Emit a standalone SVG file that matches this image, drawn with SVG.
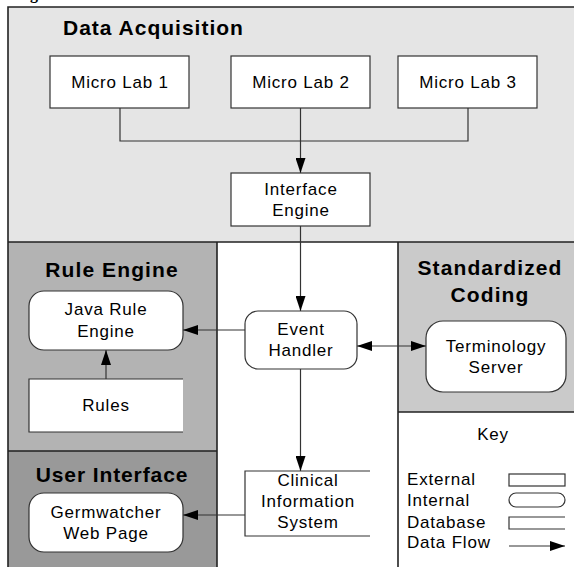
<svg xmlns="http://www.w3.org/2000/svg" width="574" height="567" viewBox="0 0 574 567">
<style>
.t{font-family:"Liberation Sans",Arial,sans-serif;font-size:17px;letter-spacing:0.8px;fill:#000;text-anchor:middle}
.h{font-family:"Liberation Sans",Arial,sans-serif;font-size:21px;font-weight:bold;letter-spacing:1.1px;fill:#000;text-anchor:middle}
.k{font-family:"Liberation Sans",Arial,sans-serif;font-size:17px;letter-spacing:0.8px;fill:#000}
.box{fill:#fff;stroke:#333;stroke-width:1.2}
.db{fill:none;stroke:#333;stroke-width:1.2}
.sep{fill:none;stroke:#222;stroke-width:1.6}
.c{fill:none;stroke:#333;stroke-width:1.2}
</style>
<defs>
<marker id="ah" markerUnits="userSpaceOnUse" markerWidth="15" markerHeight="10" refX="15" refY="5" orient="auto-start-reverse" viewBox="0 0 15 10">
<path d="M0,0 L15,5 L0,10 z" fill="#000"/>
</marker>
</defs>
<rect width="574" height="567" fill="#fff"/>
<text x="30" y="-1" font-family="Liberation Serif,serif" font-size="16" font-weight="bold">g</text>
<g id="regions">
<rect x="8" y="7" width="570" height="235" fill="#e5e5e5"/>
<rect x="8" y="242" width="209" height="209" fill="#b3b3b3"/>
<rect x="8" y="451" width="209" height="120" fill="#999"/>
<rect x="398" y="242" width="180" height="170" fill="#cacaca"/>
<path class="sep" d="M8,571 V7 H578 M8,242 H578 M217,242 V571 M398,242 V571 M8,451 H217 M398,412 H578"/>
</g>
<g id="titles">
<text class="h" x="63" y="35" style="text-anchor:start;letter-spacing:1px">Data Acquisition</text>
<text class="h" x="112" y="277">Rule Engine</text>
<text class="h" x="112" y="482" style="letter-spacing:0.9px">User Interface</text>
<text class="h" x="490" y="275">Standardized</text>
<text class="h" x="490" y="302">Coding</text>
</g>
<g id="connectors">
<path class="c" d="M120,108 V141 H468 V108"/>
<path class="c" d="M300.5,108 V141" />
<path class="c" d="M300.5,141 V173" stroke="#000" stroke-width="1.6" marker-end="url(#ah)"/>
<path class="c" d="M300.5,226 V311" marker-end="url(#ah)"/>
<path class="c" d="M245,330 H183" marker-end="url(#ah)"/>
<path class="c" d="M357,346 H426" marker-start="url(#ah)" marker-end="url(#ah)"/>
<path class="c" d="M106,379 V350" marker-end="url(#ah)"/>
<path class="c" d="M300.5,369 V471" marker-end="url(#ah)"/>
<path class="c" d="M245,515 H183" marker-end="url(#ah)"/>
</g>
<g id="micro-lab-1">
<rect class="box" x="50" y="56" width="139" height="52"/>
<text class="t" x="120" y="88">Micro Lab 1</text>
</g>
<g id="micro-lab-2">
<rect class="box" x="231" y="56" width="139" height="52"/>
<text class="t" x="301" y="88">Micro Lab 2</text>
</g>
<g id="micro-lab-3">
<rect class="box" x="398" y="56" width="139" height="52"/>
<text class="t" x="468" y="88">Micro Lab 3</text>
</g>
<g id="interface-engine">
<rect class="box" x="231" y="173" width="139" height="53"/>
<text class="t" x="301" y="195">Interface</text>
<text class="t" x="301" y="216">Engine</text>
</g>
<g id="java-rule-engine">
<rect class="box" x="29" y="291" width="154" height="59" rx="15"/>
<text class="t" x="106" y="315">Java Rule</text>
<text class="t" x="106" y="337">Engine</text>
</g>
<g id="rules">
<rect x="29" y="379" width="154" height="53" fill="#fff"/>
<path class="db" d="M183,379 H29 V432 H183"/>
<text class="t" x="106" y="411">Rules</text>
</g>
<g id="event-handler">
<rect class="box" x="245" y="311" width="112" height="58" rx="13"/>
<text class="t" x="301" y="335">Event</text>
<text class="t" x="301" y="356">Handler</text>
</g>
<g id="terminology-server">
<rect class="box" x="426" y="321" width="140" height="71" rx="17"/>
<text class="t" x="496" y="352">Terminology</text>
<text class="t" x="496" y="373">Server</text>
</g>
<g id="clinical-information-system">
<path class="db" d="M370,471 H245 V536 H370"/>
<text class="t" x="308" y="486">Clinical</text>
<text class="t" x="308" y="507">Information</text>
<text class="t" x="308" y="528">System</text>
</g>
<g id="germwatcher-web-page">
<rect class="box" x="29" y="493" width="154" height="59" rx="15"/>
<text class="t" x="106" y="518">Germwatcher</text>
<text class="t" x="106" y="539">Web Page</text>
</g>
<g id="key">
<text class="t" x="493" y="440">Key</text>
<text class="k" x="407" y="485">External</text>
<text class="k" x="407" y="506">Internal</text>
<text class="k" x="407" y="528">Database</text>
<text class="k" x="407" y="548">Data Flow</text>
<rect class="box" x="509" y="474" width="56" height="12"/>
<rect class="box" x="509" y="493" width="56" height="14" rx="7"/>
<path class="db" d="M565,517 H509 V529 H565"/>
<path class="c" d="M509,546 H565" marker-end="url(#ah)"/>
</g>
</svg>
